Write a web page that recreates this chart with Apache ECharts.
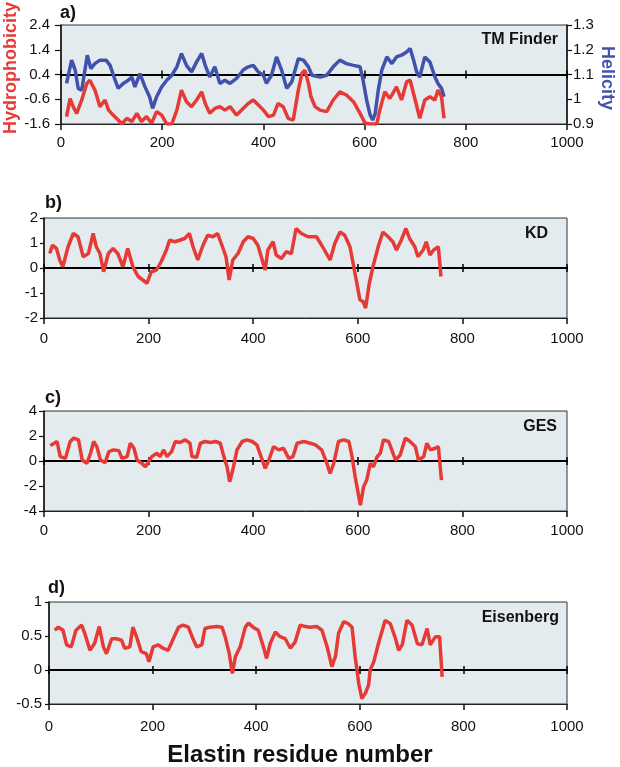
<!DOCTYPE html>
<html><head><meta charset="utf-8">
<script src="https://cdn.jsdelivr.net/npm/echarts@6/dist/echarts.min.js"></script>
<style>html,body{margin:0;padding:0;background:#fff}#c{width:620px;height:767px}</style>
</head><body><div id="c"></div><script>
const xTicks = [0, 200, 400, 600, 800, 1000];
const hydTicks = [-1.6, -0.6, 0.4, 1.4, 2.4];
const helTicks = [0.9, 1, 1.1, 1.2, 1.3];

const helRes = [11,21,28,34,41,52,59,67,77,89,97,107,113,123,133,140,146,156,166,175,181,189,199,209,219,229,238,248,258,268,278,285,294,304,314,324,334,347,360,370,380,390,400,406,416,426,436,446,456,469,479,489,496,512,525,538,551,564,578,591,597,604,611,616,621,627,634,644,654,663,673,683,690,696,703,709,719,729,739,745,752,757];
const helVal = [1.064,1.158,1.118,1.044,1.037,1.178,1.124,1.144,1.158,1.158,1.137,1.077,1.044,1.064,1.077,1.09,1.05,1.104,1.05,1.01,0.963,1.01,1.05,1.077,1.097,1.131,1.185,1.137,1.11,1.151,1.185,1.137,1.09,1.131,1.064,1.077,1.064,1.084,1.118,1.131,1.137,1.11,1.097,1.064,1.097,1.171,1.118,1.044,1.07,1.164,1.158,1.131,1.097,1.09,1.097,1.131,1.158,1.144,1.137,1.131,1.077,0.997,0.936,0.916,0.943,1.037,1.118,1.171,1.144,1.171,1.178,1.191,1.205,1.164,1.11,1.09,1.171,1.151,1.09,1.064,1.044,1.01];

const hydRes = [11,18,24,31,41,51,57,67,77,87,94,103,113,120,130,140,150,159,169,179,189,199,209,219,229,238,248,258,268,278,285,294,304,314,324,334,347,360,370,380,390,400,410,420,429,439,449,459,469,476,482,489,494,502,512,525,538,551,564,578,591,601,611,624,630,640,650,663,673,683,690,700,709,719,729,739,745,752,757];
const hydVal = [-1.3,-0.57,-0.9,-1.17,-0.63,0.04,0.17,-0.23,-0.9,-0.63,-1.04,-1.24,-1.44,-1.6,-1.37,-1.5,-1.17,-1.5,-1.3,-1.57,-1.1,-1.24,-1.6,-1.6,-1.04,-0.23,-0.7,-0.9,-0.63,-0.3,-0.77,-1.17,-0.97,-0.9,-1.04,-0.9,-1.24,-0.97,-0.77,-0.63,-0.83,-1.04,-1.3,-1.24,-0.77,-0.9,-1.37,-1.44,-0.23,0.44,0.57,0.04,-0.5,-0.9,-1.04,-1.1,-0.63,-0.3,-0.43,-0.7,-1.17,-1.57,-1.6,-1.6,-1.04,-0.3,-0.57,-0.1,-0.63,0.1,0.17,-0.63,-1.37,-0.63,-0.5,-0.63,-0.23,-0.5,-1.37];

const kdRes = [11,16,24,30,36,46,56,65,75,85,94,100,107,114,123,132,141,151,160,170,180,189,197,205,215,224,234,240,250,259,269,278,285,294,304,313,323,332,339,348,354,361,371,381,390,400,409,419,423,428,438,444,454,463,473,482,492,505,521,531,540,547,556,566,575,585,591,597,604,610,615,622,629,639,648,658,667,674,683,692,699,709,715,725,731,738,745,754,759];
const kdVal = [0.58,0.91,0.78,0.32,0.05,0.85,1.38,1.25,0.45,0.58,1.38,0.85,0.58,-0.15,0.58,0.78,0.58,0.05,0.78,0.05,-0.34,-0.48,-0.61,-0.15,-0.08,0.25,0.72,1.11,1.05,1.11,1.18,1.38,0.85,0.32,0.91,1.31,1.25,1.38,0.98,0.45,-0.48,0.32,0.58,1.05,1.25,1.18,0.91,0.19,-0.08,0.72,1.05,0.52,0.38,0.65,0.58,1.58,1.38,1.25,1.25,0.91,0.58,0.32,0.98,1.44,1.31,0.85,0.19,-0.48,-1.27,-1.34,-1.6,-0.61,0.05,0.85,1.44,1.25,1.05,0.72,1.11,1.58,1.18,0.85,0.45,0.72,1.05,0.52,0.72,0.85,-0.34];

const gesRes = [12,25,31,41,50,57,66,73,82,89,95,101,108,117,124,133,143,149,159,165,172,178,187,194,200,206,216,222,229,235,244,251,260,270,279,283,292,299,308,318,328,337,344,350,355,361,369,379,388,398,407,415,423,430,439,449,458,468,476,484,497,509,519,531,541,547,554,563,573,583,589,595,602,605,611,617,624,630,637,643,649,659,665,672,681,691,700,710,716,726,732,739,748,754,760];
const gesVal = [1.23,1.56,0.35,0.21,1.56,1.83,1.69,0.08,-0.19,0.62,1.56,1.15,0.08,-0.13,0.75,0.89,0.83,0.21,0.35,1.42,1.02,0.08,-0.19,-0.46,-0.05,0.35,0.62,0.35,0.89,0.35,0.75,1.56,1.48,1.69,1.42,0.35,0.3,1.42,1.56,1.48,1.56,1.42,0.35,-0.46,-1.66,-0.72,0.89,1.56,1.69,1.56,1.29,0.35,-0.59,0.08,1.15,0.89,1.02,0.21,0.35,1.42,1.56,1.42,1.29,0.89,-0.19,-1.0,-0.19,1.56,1.69,1.56,0.35,-1.26,-2.87,-3.54,-2.07,-1.53,-0.19,-0.46,0.35,0.62,1.69,1.56,0.89,0.08,0.48,1.83,1.56,1.15,0.08,0.35,1.42,0.89,1.02,1.15,-1.53];

const eisRes = [11,18,27,34,43,52,63,69,79,88,97,105,111,121,130,140,146,156,162,169,178,188,193,201,211,220,230,240,250,259,269,279,285,295,301,311,324,334,340,348,354,360,369,379,385,394,404,414,420,427,437,446,456,466,475,485,495,504,517,527,537,546,553,559,569,578,585,591,598,604,611,617,620,627,636,649,659,669,675,682,691,701,711,720,730,736,746,754,759];
const eisVal = [0.585,0.63,0.585,0.37,0.34,0.585,0.66,0.54,0.29,0.39,0.64,0.34,0.24,0.46,0.46,0.44,0.32,0.34,0.63,0.49,0.27,0.24,0.12,0.34,0.37,0.32,0.29,0.46,0.63,0.66,0.63,0.44,0.34,0.37,0.61,0.63,0.64,0.63,0.49,0.24,-0.05,0.2,0.34,0.63,0.69,0.63,0.585,0.34,0.17,0.39,0.56,0.49,0.46,0.32,0.41,0.66,0.64,0.63,0.64,0.585,0.34,0.05,0.2,0.54,0.71,0.68,0.63,0.2,-0.2,-0.42,-0.34,-0.22,0.0,0.12,0.39,0.73,0.68,0.46,0.29,0.37,0.73,0.66,0.39,0.37,0.61,0.37,0.49,0.49,-0.1];

const zip = (a, b) => a.map((v, i) => [v, b[i]]);
const FONT = 'Liberation Sans, Arial, Helvetica, sans-serif';
const RED = '#e53a36', BLUE = '#4152ad', BG = '#e4ebef';

const grids = [
  {left: 61, top: 25, width: 506, height: 99},
  {left: 44, top: 218, width: 523, height: 100},
  {left: 44, top: 411, width: 523, height: 100},
  {left: 49, top: 602, width: 518, height: 102}
].map(g => Object.assign({show: true, backgroundColor: BG, borderColor: '#333', borderWidth: 1, containLabel: false}, g));

const labelMargins = [11, 13, 12, 15];
const zeroYIndex = [2, 3, 4, 5];
const xAxes = [];
grids.forEach((g, i) => {
  const base = {gridIndex: i, type: 'value', min: 0, max: 1000, interval: 200, splitLine: {show: false}};
  xAxes.push(Object.assign({}, base, {
    position: 'bottom',
    axisLine: {onZero: false, lineStyle: {color: '#222', width: 1}},
    axisTick: {length: 6, lineStyle: {color: '#111', width: 1.5}},
    axisLabel: {margin: labelMargins[i], fontSize: 15, color: '#111', fontFamily: FONT, formatter: v => String(v)}
  }));
  xAxes.push(Object.assign({}, base, {
    position: 'bottom',
    axisLine: {onZero: true, onZeroAxisIndex: zeroYIndex[i], lineStyle: {color: '#000', width: 2}},
    axisTick: {length: 4, lineStyle: {color: '#000', width: 1.5}},
    axisLabel: {show: false}
  }));
  xAxes.push(Object.assign({}, base, {
    position: 'bottom',
    axisLine: {onZero: true, onZeroAxisIndex: zeroYIndex[i], lineStyle: {color: '#000', width: 2}},
    axisTick: {inside: true, length: 4, lineStyle: {color: '#000', width: 1.5}},
    axisLabel: {show: false}
  }));
});

const yLabel = {fontSize: 15, color: '#111', fontFamily: FONT};
const yAxes = [
  {gridIndex: 0, type: 'value', position: 'left', min: -1.6, max: 2.4,
   axisLine: {show: true, onZero: false, lineStyle: {color: '#111', width: 1.5}},
   axisTick: {show: true, customValues: hydTicks, length: 6, lineStyle: {color: '#111', width: 1.2}},
   axisLabel: Object.assign({customValues: hydTicks, margin: 11, formatter: v => v.toFixed(1)}, yLabel),
   splitLine: {show: false}},
  {gridIndex: 0, type: 'value', position: 'right', min: 0.9, max: 1.3,
   axisLine: {show: true, onZero: false, lineStyle: {color: '#111', width: 1.5}},
   axisTick: {show: true, customValues: helTicks, length: 5, lineStyle: {color: '#111', width: 1.2}},
   axisLabel: Object.assign({customValues: helTicks, margin: 6, formatter: v => String(Math.round(v * 10) / 10)}, yLabel),
   splitLine: {show: false}},
  {gridIndex: 0, type: 'value', position: 'left', min: -2, max: 2, show: false, axisLine: {onZero: false}},
  {gridIndex: 1, type: 'value', position: 'left', min: -2, max: 2, interval: 1,
   axisLine: {show: true, onZero: false, lineStyle: {color: '#111', width: 1.5}},
   axisTick: {show: true, length: 4, lineStyle: {color: '#111', width: 1.2}},
   axisLabel: Object.assign({margin: 6}, yLabel), splitLine: {show: false}},
  {gridIndex: 2, type: 'value', position: 'left', min: -4, max: 4, interval: 2,
   axisLine: {show: true, onZero: false, lineStyle: {color: '#111', width: 1.5}},
   axisTick: {show: true, length: 5, lineStyle: {color: '#111', width: 1.2}},
   axisLabel: Object.assign({margin: 7}, yLabel), splitLine: {show: false}},
  {gridIndex: 3, type: 'value', position: 'left', min: -0.5, max: 1, interval: 0.5,
   axisLine: {show: true, onZero: false, lineStyle: {color: '#111', width: 1.5}},
   axisTick: {show: true, length: 4, lineStyle: {color: '#111', width: 1.2}},
   axisLabel: Object.assign({margin: 7}, yLabel), splitLine: {show: false}}
];

const line = (name, data, xi, yi, color) => ({
  name, type: 'line', data, xAxisIndex: xi, yAxisIndex: yi, showSymbol: false, symbol: 'none',
  lineStyle: {color, width: 3.5}, itemStyle: {color}, clip: true, z: 5, animation: false
});

const txt = (text, x, y, size, opts) => ({type: 'text', x, y, z: 100,
  style: Object.assign({text, font: 'bold ' + size + 'px ' + FONT, fill: '#111', textAlign: 'left', textVerticalAlign: 'middle'}, opts || {})});

const option = {
  animation: false,
  backgroundColor: '#fff',
  grid: grids,
  xAxis: xAxes,
  yAxis: yAxes,
  series: [
    line('Helicity', zip(helRes, helVal), 0, 1, BLUE),
    line('Hydrophobicity', zip(hydRes, hydVal), 0, 0, RED),
    line('KD', zip(kdRes, kdVal), 3, 3, RED),
    line('GES', zip(gesRes, gesVal), 6, 4, RED),
    line('Eisenberg', zip(eisRes, eisVal), 9, 5, RED)
  ],
  graphic: [
    txt('a)', 60, 13, 18),
    txt('b)', 45, 203, 18),
    txt('c)', 45, 398, 18),
    txt('d)', 48, 588, 18),
    txt('TM Finder', 558, 40, 16, {textAlign: 'right'}),
    txt('KD', 548, 234, 16, {textAlign: 'right'}),
    txt('GES', 557, 427, 16, {textAlign: 'right'}),
    txt('Eisenberg', 559, 618, 16, {textAlign: 'right'}),
    {type: 'text', x: 11, y: 68, rotation: Math.PI / 2, z: 100,
     style: {text: 'Hydrophobicity', font: 'bold 18px ' + FONT, fill: RED, textAlign: 'center', textVerticalAlign: 'middle'}},
    {type: 'text', x: 607, y: 78, rotation: -Math.PI / 2, z: 100,
     style: {text: 'Helicity', font: 'bold 18px ' + FONT, fill: BLUE, textAlign: 'center', textVerticalAlign: 'middle'}},
    txt('Elastin residue number', 300, 755, 24, {textAlign: 'center'})
  ]
};
echarts.init(document.getElementById('c'), null, {renderer: 'canvas'}).setOption(option);
</script></body></html>
